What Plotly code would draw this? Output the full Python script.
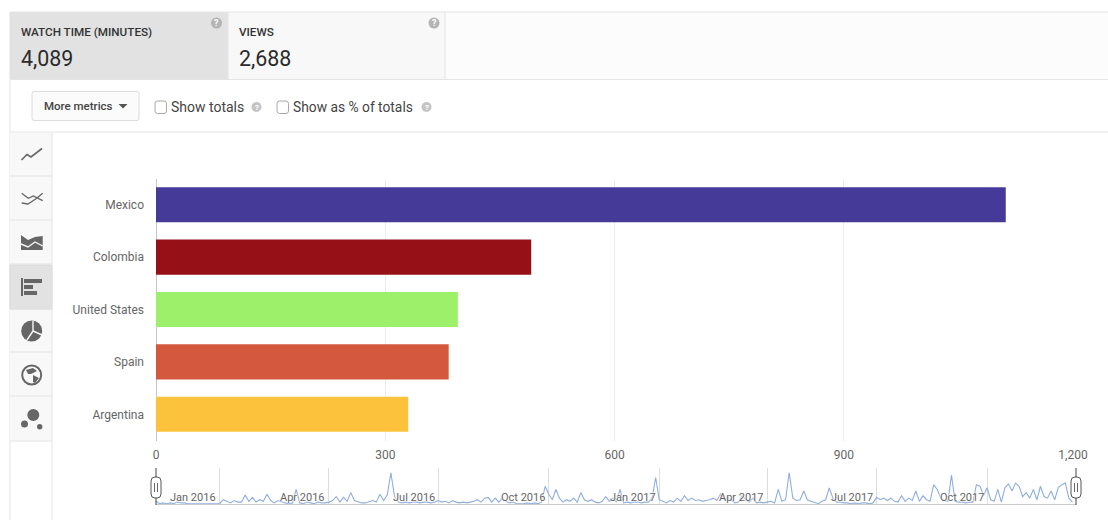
import pandas as pd
import plotly.graph_objects as go

countries = ["Mexico", "Colombia", "United States", "Spain", "Argentina"]
watch_minutes = [1112, 491, 395, 383, 330]
bar_colors = ["#453a97", "#961018", "#9cf06a", "#d3583e", "#fcc23b"]
x_ticks = [0, 300, 600, 900, 1200]
x_tick_labels = ["0", "300", "600", "900", "1,200"]

spark_q4_2015 = [4,1,2,1,2,1,3,2,2,1,1,1,1,1,1,1,1,1]
spark_q1_2016 = [1,6,4,2,5,3,3,12,4,9,3,6,4,13,5,2,5,3,2,1,2,19,2,1,3,2,1,3,2,2]
spark_q2_2016 = [3,5,10,3,9,4,15,5,3,2,2,4,5,3,13,5,12,40,10,3,2,3,2,3,3,2,3,3,2,3]
spark_q3_2016 = [5,3,4,2,5,3,2,3,2,3,4,6,3,8,9,3,8,3,8,4,2,3,1,1,1,2,1,2,1,3,23]
spark_q4_2016 = [13,6,19,8,3,6,4,8,3,15,6,4,6,3,2,4,10,4,8,3,19,2,3,2,3,3,2,3,3,8,34]
spark_q1_2017 = [6,4,2,5,3,8,4,11,5,8,5,6,4,5,6,8,5,13,6,9,5,2,3,11,6,3,8,2,3,2]
spark_q2_2017 = [3,4,2,19,4,6,40,8,5,6,17,6,4,2,1,4,6,21,8,3,3,2,2,1,2,1,2,2,1,2]
spark_q3_2017 = [9,6,8,5,8,4,3,11,4,8,5,17,4,11,6,4,25,19,8,5,4,37,4,3,3,2,3,3,25,23,11]
spark_q4_2017 = [21,6,4,19,3,21,26,17,27,23,10,15,8,19,6,23,10,8,17,6,21,25,27,8,3]
spark_segments = [
    ("2015-11-09", "2016-01-01", spark_q4_2015),
    ("2016-01-01", "2016-04-01", spark_q1_2016),
    ("2016-04-01", "2016-07-01", spark_q2_2016),
    ("2016-07-01", "2016-10-01", spark_q3_2016),
    ("2016-10-01", "2017-01-01", spark_q4_2016),
    ("2017-01-01", "2017-04-01", spark_q1_2017),
    ("2017-04-01", "2017-07-01", spark_q2_2017),
    ("2017-07-01", "2017-10-01", spark_q3_2017),
    ("2017-10-01", "2017-12-14", spark_q4_2017),
]
quarter_dates = ["2016-01-01", "2016-04-01", "2016-07-01", "2016-10-01",
                 "2017-01-01", "2017-04-01", "2017-07-01", "2017-10-01"]
quarter_labels = ["Jan 2016", "Apr 2016", "Jul 2016", "Oct 2016",
                  "Jan 2017", "Apr 2017", "Jul 2017", "Oct 2017"]

spark_x, spark_y = [], []
for start, end, vals in spark_segments:
    dates = pd.date_range(start, end, periods=len(vals) + 1)[:-1]
    spark_x.extend(dates)
    spark_y.extend(vals)

W, H = 1108, 520
FONT = "Roboto"
shapes, notes = [], []


def rect(x0, y0, x1, y1, fill="rgba(0,0,0,0)", line=None, lw=1):
    shapes.append(dict(type="rect", xref="x3", yref="y3", x0=x0, y0=y0, x1=x1, y1=y1,
                       fillcolor=fill, line=dict(color=line or "rgba(0,0,0,0)", width=lw if line else 0),
                       layer="below"))


def seg(x0, y0, x1, y1, color="#e4e4e4", lw=1, layer="below"):
    shapes.append(dict(type="line", xref="x3", yref="y3", x0=x0, y0=y0, x1=x1, y1=y1,
                       line=dict(color=color, width=lw), layer=layer))


def path(d, fill="rgba(0,0,0,0)", line=None, lw=1, layer="below"):
    shapes.append(dict(type="path", xref="x3", yref="y3", path=d, fillcolor=fill,
                       line=dict(color=line or "rgba(0,0,0,0)", width=lw if line else 0), layer=layer))


def circle(cx, cy, r, fill="#666666", line=None, lw=1, layer="below"):
    shapes.append(dict(type="circle", xref="x3", yref="y3", x0=cx - r, y0=cy - r, x1=cx + r, y1=cy + r,
                       fillcolor=fill, line=dict(color=line or "rgba(0,0,0,0)", width=lw if line else 0),
                       layer=layer))


def text(x, y, s, size=12, color="#444444", anchor="left", weight=None, xref="x3"):
    notes.append(dict(x=x, y=y, xref=xref, yref="y3", text=s, showarrow=False, xanchor=anchor, yanchor="middle",
                      font=dict(family=FONT, size=size, color=color, weight=weight), borderpad=0))


def rrect(x0, y0, x1, y1, r):
    return (f"M{x0+r},{y0} L{x1-r},{y0} Q{x1},{y0} {x1},{y0+r} L{x1},{y1-r} Q{x1},{y1} {x1-r},{y1} "
            f"L{x0+r},{y1} Q{x0},{y1} {x0},{y1-r} L{x0},{y0+r} Q{x0},{y0} {x0+r},{y0} Z")


def help_icon(cx, cy, r, color):
    circle(cx, cy, r, fill=color)
    text(cx, cy, "?", size=int(r * 1.7), color="#ffffff", anchor="center", weight=700)


# Header tiles
rect(10, 12, 228, 79, fill="#e2e2e2")
rect(228, 12, 445, 79, fill="#f8f8f8")
rect(445, 12, W, 79, fill="#fcfcfc")
seg(10, 12, W, 12)
seg(10, 79.5, W, 79.5)
seg(228, 12, 228, 79)
seg(445, 12, 445, 79)
seg(10, 12, 10, 79, color="#dddddd")
text(20, 32, "WATCH TIME (MINUTES)", size=11.7, color="#333333", weight=500)
text(238, 32, "VIEWS", size=11.7, color="#333333", weight=500)
text(20, 58, "4,089", size=21.4, color="#2b2b2b")
text(238, 58, "2,688", size=21.4, color="#2b2b2b")
help_icon(216.5, 23, 5.5, "#b4b4b4")
help_icon(434, 23, 5.5, "#b4b4b4")

# Controls row
seg(10, 132, W, 132)
seg(10, 80, 10, 520)
path(rrect(32, 91.5, 139, 120.5, 2), fill="#fbfbfb", line="#dcdcdc")
text(43, 106, "More metrics", size=11.5, color="#444444", weight=500)
path("M118.5,104 L127.5,104 L123,108.5 Z", fill="#555555")
path(rrect(155, 101, 166.5, 113.5, 2.5), fill="#ffffff", line="#a8a8a8")
path(rrect(277, 101, 288.5, 113.5, 2.5), fill="#ffffff", line="#a8a8a8")
text(170, 106.5, "Show totals", size=14, color="#444444")
text(292, 106.5, "Show as % of totals", size=13.8, color="#444444")
help_icon(256.5, 107, 5, "#c4c4c4")
help_icon(426.5, 107, 5, "#c4c4c4")

# Left toolbar
rect(10, 133, 52, 441, fill="#f8f8f8")
rect(10, 265, 52, 309, fill="#e2e2e2", line="#d8d8d8")
seg(52, 133, 52, 520)
for ys in [176, 220, 264, 309, 352, 396, 441]:
    seg(10, ys, 52, ys)
ic = "#666666"
path("M21.5,160 L27,154.5 L31,157 L42,148.5", line=ic, lw=1.6)
path("M21.7,193.3 L28.3,198.3 L33.3,196 L42.7,200.7 M21.7,203 L28,204 L36.7,198.3 L42.7,193.3", line=ic, lw=1.3)
path("M21,235 L28,240 L35,237 L42.7,236 L42.7,250 L21,250 Z", fill=ic)
path("M21,244 L28,247 L35,242 L42.7,246", line="#f8f8f8", lw=1.4)
path("M21,278 L23,278 L23,296 L21,296 Z M24,279 L42,279 L42,283 L24,283 Z "
     "M24,285 L33,285 L33,289 L24,289 Z M24,291 L37,291 L37,295 L24,295 Z", fill=ic)
circle(31.7, 331, 10.5, fill=ic)
path("M33,321 L33,331 L42,335 M33,331 L27,340", line="#f8f8f8", lw=1.4)
circle(31.7, 375, 9.5, fill="#f8f8f8", line=ic, lw=2)
path("M26,370 L33,368 L37,371 L31,374 L28,374 Z M33,375 L39,378 L35,383 L33,382 Z", fill=ic)
circle(33.3, 415, 6)
circle(24.5, 424, 3.5)
circle(39.7, 426.7, 2.7)

# Overview handles
for hx in [156, 1076]:
    seg(hx, 468, hx, 505, color="#444444", layer="above")
    path(rrect(hx - 5, 477, hx + 5, 498, 4), fill="#ffffff", line="#555555", layer="above")
    seg(hx - 1.5, 483, hx - 1.5, 492, color="#666666", layer="above")
    seg(hx + 1.5, 483, hx + 1.5, 492, color="#666666", layer="above")
seg(156, 504.5, 1076, 504.5, color="#cccccc")

for d, lab in zip(quarter_dates, quarter_labels):
    notes.append(dict(x=d, y=497, xref="x2", yref="y3", text=lab, showarrow=False, xanchor="right", yanchor="middle",
                      xshift=-1.5,
                      font=dict(family=FONT, size=11, color="#666666", shadow="0 0 2px #fff, 0 0 2px #fff, 0 0 3px #fff")))

fig = go.Figure()
fig.add_trace(go.Bar(y=countries, x=watch_minutes, orientation="h", marker=dict(color=bar_colors, line_width=0),
                     xaxis="x", yaxis="y", showlegend=False))
fig.add_trace(go.Scatter(x=spark_x, y=spark_y, mode="lines", line=dict(color="#8eaedd", width=1.1),
                         xaxis="x2", yaxis="y2", showlegend=False))

fig.update_layout(
    width=W, height=H, autosize=False, margin=dict(l=0, r=0, t=0, b=0, pad=0, autoexpand=False),
    paper_bgcolor="#ffffff", plot_bgcolor="rgba(0,0,0,0)", bargap=0.33,
    font=dict(family=FONT, size=12, color="#666666"), shapes=shapes, annotations=notes,
    xaxis=dict(domain=[156 / W, 1073 / W], range=[0, 1200], anchor="y", tickvals=x_ticks, ticktext=x_tick_labels,
               showgrid=True, gridcolor="#ececec", gridwidth=1, zeroline=True, zerolinecolor="#c8c8c8", zerolinewidth=1,
               showline=False, ticks="outside", ticklen=3, tickcolor="rgba(0,0,0,0)",
               tickfont=dict(family=FONT, size=12, color="#666666")),
    yaxis=dict(domain=[1 - 440.5 / H, 1 - 178.5 / H], anchor="x", categoryorder="array", categoryarray=countries,
               autorange=False, range=[4.5, -0.5], showgrid=False, showline=False, zeroline=False, ticks="",
               ticklabelstandoff=11, tickfont=dict(family=FONT, size=12, color="#666666")),
    xaxis2=dict(domain=[156 / W, 1076 / W], type="date", range=["2015-11-09", "2017-12-14"], anchor="y2",
                tick0="2016-01-01", dtick="M3", showticklabels=False, showgrid=True, gridcolor="#dddddd", gridwidth=1,
                zeroline=False, showline=False, ticks=""),
    yaxis2=dict(domain=[1 - 504.5 / H, 1 - 468 / H], range=[0, 46], anchor="x2", visible=False, showgrid=False,
                zeroline=False),
    xaxis3=dict(domain=[0, 1], range=[0, W], anchor="y3", visible=False, fixedrange=True),
    yaxis3=dict(domain=[0, 1], range=[H, 0], anchor="x3", visible=False, fixedrange=True),
)

fig.write_html("out.html", config=dict(displayModeBar=False),
               post_script="document.body.style.margin='0';document.body.style.overflow='hidden';")
